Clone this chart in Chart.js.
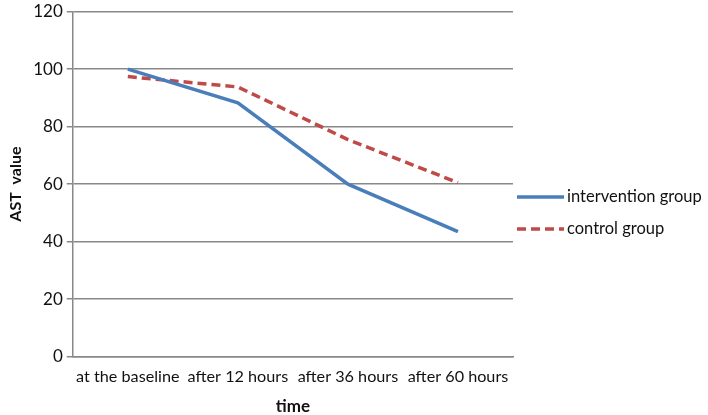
<!DOCTYPE html>
<html>
<head>
<meta charset="utf-8">
<script src="https://cdn.jsdelivr.net/npm/chart.js@4/dist/chart.umd.min.js"></script>
<style>
  html, body { margin: 0; padding: 0; background: #fff; }
  #wrap { width: 708px; height: 415px; }
</style>
</head>
<body>
<div id="wrap"><canvas id="myChart"></canvas></div>
<script>
'use strict'

const categories = ['at the baseline', 'after 12 hours', 'after 36 hours', 'after 60 hours'];
const intervention = [100, 88.3, 60, 43.5];
const control = [97.4, 93.8, 75.5, 60.5];
const yTicks = [0, 20, 40, 60, 80, 100, 120];

const FONT = 'Lato, "Open Sans", sans-serif';

// legend drawn by hand, right of the plot
const sideLegend = {
  id: 'sideLegend',
  afterDraw(chart) {
    const ctx = chart.ctx;
    const x0 = chart.chartArea.right + 4;
    const rows = [197, 229];
    chart.data.datasets.forEach((ds, i) => {
      const y = rows[i];
      ctx.save();
      ctx.strokeStyle = ds.borderColor;
      ctx.lineWidth = ds.borderWidth;
      ctx.setLineDash(ds.borderDash || []);
      ctx.beginPath();
      ctx.moveTo(x0, y);
      ctx.lineTo(x0 + 47, y);
      ctx.stroke();
      ctx.setLineDash([]);
      ctx.fillStyle = '#111';
      ctx.font = '16.5px ' + FONT;
      ctx.textBaseline = 'middle';
      ctx.fillText(ds.label, x0 + 50, y);
      ctx.restore();
    });
  }
};

let ctx = document.getElementById('myChart').getContext('2d');

new Chart(ctx, {
  type: 'line',
  data: {
    labels: categories,
    datasets: [
      {
        label: 'intervention group',
        data: intervention,
        borderColor: '#4a7ebb',
        backgroundColor: '#4a7ebb',
        borderWidth: 3.5,
        pointRadius: 0,
        tension: 0
      },
      {
        label: 'control group',
        data: control,
        borderColor: '#be4b48',
        backgroundColor: '#be4b48',
        borderWidth: 3.5,
        borderDash: [9, 5],
        pointRadius: 0,
        tension: 0
      }
    ]
  },
  options: {
    responsive: true,
    maintainAspectRatio: false,
    animation: false,
    layout: { padding: { top: 0, right: 195, left: 2, bottom: 0 } },
    plugins: {
      legend: { display: false },
      tooltip: { enabled: false }
    },
    scales: {
      x: {
        offset: true,
        grid: { display: false, drawTicks: false },
        border: { display: true, color: '#888', width: 1.5 },
        ticks: { color: '#111', font: { family: FONT, size: 16.2 }, padding: 10, maxRotation: 0, autoSkip: false },
        title: { display: true, text: 'time', color: '#111', font: { family: FONT, size: 17, weight: 'bold', lineHeight: 1.0 }, padding: { top: 2, bottom: 0 } }
      },
      y: {
        min: 0,
        max: 120,
        afterBuildTicks(axis) { axis.ticks = yTicks.map(v => ({ value: v })); },
        grid: { color: '#888', lineWidth: 1.5, tickLength: 6 },
        border: { display: true, color: '#888', width: 1.5 },
        ticks: { color: '#111', font: { family: FONT, size: 17, lineHeight: 0.9 }, padding: 4 },
        title: { display: true, text: 'AST  value', color: '#111', font: { family: FONT, size: 16, weight: 'bold' }, padding: { bottom: 4 } }
      }
    }
  },
  plugins: [sideLegend]
});
</script>
</body>
</html>
